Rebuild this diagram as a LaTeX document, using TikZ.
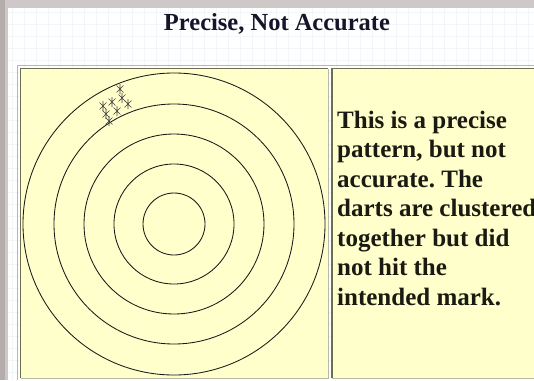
\documentclass[tikz,border=0pt]{standalone}
\usepackage{fontspec}
\setmainfont{Liberation Serif}
\frenchspacing
\definecolor{marble}{HTML}{CFC8C8}
\definecolor{marbledark}{HTML}{B5ACAC}
\definecolor{gridc}{HTML}{F2F6F8}
\definecolor{cellfill}{HTML}{FFFFCC}
\definecolor{olive}{HTML}{6E6E50}
\definecolor{lightb}{HTML}{B8B8A8}
\definecolor{titlec}{HTML}{14142A}
\definecolor{textc}{HTML}{1A1A12}
\tikzset{
  ring/.style={draw=black!90, line width=0.85pt},
  dartmark/.style={draw=black!75, line width=0.6pt},
  bodytext/.style={anchor=base west, inner sep=0pt, text=textc,
    font=\fontsize{25}{29.5}\selectfont\bfseries},
  titletext/.style={anchor=base, inner sep=0pt, text=titlec,
    font=\fontsize{24.5}{28}\selectfont\bfseries},
}
\begin{document}
\begin{tikzpicture}[x=1pt,y=-1pt]
\useasboundingbox (0,0) rectangle (534,380);
\clip (0,0) rectangle (534,380);
% background
\fill[marble] (0,0) rectangle (534,380);
\fill[white] (8,8) rectangle (534,380);
\draw[gridc, line width=0.5pt, step=12pt] (8,8) grid (534,380);
\fill[marbledark] (0,0) rectangle (5,380);
% title
\node[titletext] (title) at (277,30) {Precise, Not Accurate};
% table outer border
\draw[lightb, line width=1pt] (17,380) -- (17,65) -- (536,65);
% left cell
\fill[cellfill] (20,68) rectangle (328,378);
\draw[olive, line width=1.2pt] (20.5,378) -- (20.5,68.5) -- (328,68.5);
\draw[lightb, line width=1pt] (20.5,378.5) -- (328,378.5) -- (328,68.5);
% right cell
\fill[cellfill] (332,68) rectangle (536,378);
\draw[olive, line width=1.2pt] (332,378) -- (332,68.5) -- (536,68.5);
\draw[lightb, line width=1pt] (332,378.5) -- (536,378.5);
% target rings
\coordinate (ctr) at (174,224);
\foreach \r/\n in {151/r1,120/r2,90/r3,60/r4,31/r5}
  \draw[ring] (ctr) circle[radius=\r];
% darts cluster
\foreach \px/\py in {120/89,122/98,112/102,128/104,103/106,106/114,117/111,109/121}{
  \draw[dartmark] (\px-3.5,\py-3.5) -- (\px+3.5,\py+3.5) (\px-3.5,\py+3.5) -- (\px+3.5,\py-3.5) (\px,\py-5) -- (\px,\py+5);
}
% description text
\node[bodytext] (l1) at (337,128) {This is a precise};
\node[bodytext] (l2) at (337,157.5) {pattern, but not};
\node[bodytext] (l3) at (337,187) {accurate. The};
\node[bodytext] (l4) at (337,216.5) {darts are clustered};
\node[bodytext] (l5) at (337,246) {together but did};
\node[bodytext] (l6) at (337,275.5) {not hit the};
\node[bodytext] (l7) at (337,305) {intended mark.};
\end{tikzpicture}
\end{document}
